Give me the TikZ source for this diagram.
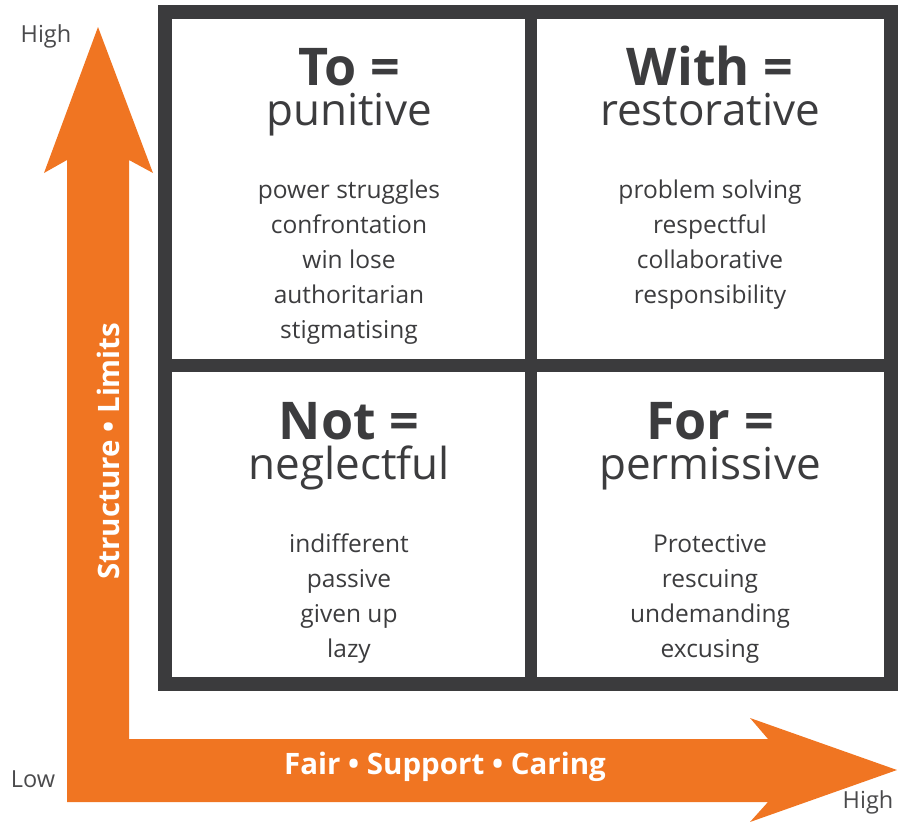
\documentclass[tikz,border=0pt]{standalone}
\usepackage{fontspec}
\setmainfont{Open Sans}
\definecolor{axisorange}{HTML}{F07522}
\definecolor{griddark}{HTML}{3B3B3D}
\definecolor{textgray}{HTML}{3C3C3E}
\definecolor{levelgray}{HTML}{4A4A4C}
\begin{document}
\begin{tikzpicture}[x=1pt, y=-1pt]
	\tikzstyle{heading} = [anchor=base, inner sep=0pt, text depth=0pt, text=textgray, font=\fontsize{52}{52}\selectfont\bfseries]
	\tikzstyle{subhead} = [anchor=base, inner sep=0pt, text=textgray, font=\fontsize{44}{44}\selectfont]
	\tikzstyle{item}    = [anchor=base, inner sep=0pt, text=textgray, font=\fontsize{24.5}{24.5}\selectfont]
	\tikzstyle{level}   = [anchor=base, inner sep=0pt, text=levelgray, font=\fontsize{23.5}{23.5}\selectfont]
	\tikzstyle{axis}    = [anchor=base, inner sep=0pt, text=white, font=\fontsize{29.5}{29.5}\selectfont\bfseries]

	\useasboundingbox (0,0) rectangle (898,822);

	% orange axes, both arrows as one shape
	\fill[axisorange] (98,27) -- (153,173) -- (129,160) -- (129,739) -- (768,739) -- (750,718)
		-- (897,770) -- (750,822) -- (768,802) -- (67,802) -- (67,160) -- (44,173) -- cycle;

	% the four boxes
	\draw[griddark, line width=14pt] (165,12) rectangle (890.5,684);
	\draw[griddark, line width=12.5pt] (531,12) -- (531,684);
	\draw[griddark, line width=13pt] (165,365.5) -- (890.5,365.5);

	\node[heading] (to)   at (349,85)  {To =};
	\node[subhead] (punitive) at (349,125) {punitive};
	\foreach \word [count=\i] in {power struggles, confrontation, win lose, authoritarian, stigmatising}
		\node[item] (to\i) at (349,163+35*\i) {\word};

	\node[heading] (with) at (710,85)  {With =};
	\node[subhead] (restorative) at (710,125) {restorative};
	\foreach \word [count=\i] in {problem solving, respectful, collaborative, responsibility}
		\node[item] (with\i) at (710,163+35*\i) {\word};

	\node[heading] (not)  at (349,439) {Not =};
	\node[subhead] (neglectful) at (349,479) {neglectful};
	\foreach \word [count=\i] in {indifferent, passive, given up, lazy}
		\node[item] (not\i) at (349,517+35*\i) {\word};

	\node[heading] (for)  at (710,439) {For =};
	\node[subhead] (permissive) at (710,479) {permissive};
	\foreach \word [count=\i] in {Protective, rescuing, undemanding, excusing}
		\node[item] (for\i) at (710,517+35*\i) {\word};

	% axis texts
	\node[axis, rotate=90] (structure) at (119,451) {Structure • Limits};
	\node[axis] (fair) at (445,774) {Fair • Support • Caring};

	\node[level] (hightop) at (46,42)   {High};
	\node[level] (low)     at (33,787)  {Low};
	\node[level] (highend) at (868,808) {High};
\end{tikzpicture}
\end{document}
